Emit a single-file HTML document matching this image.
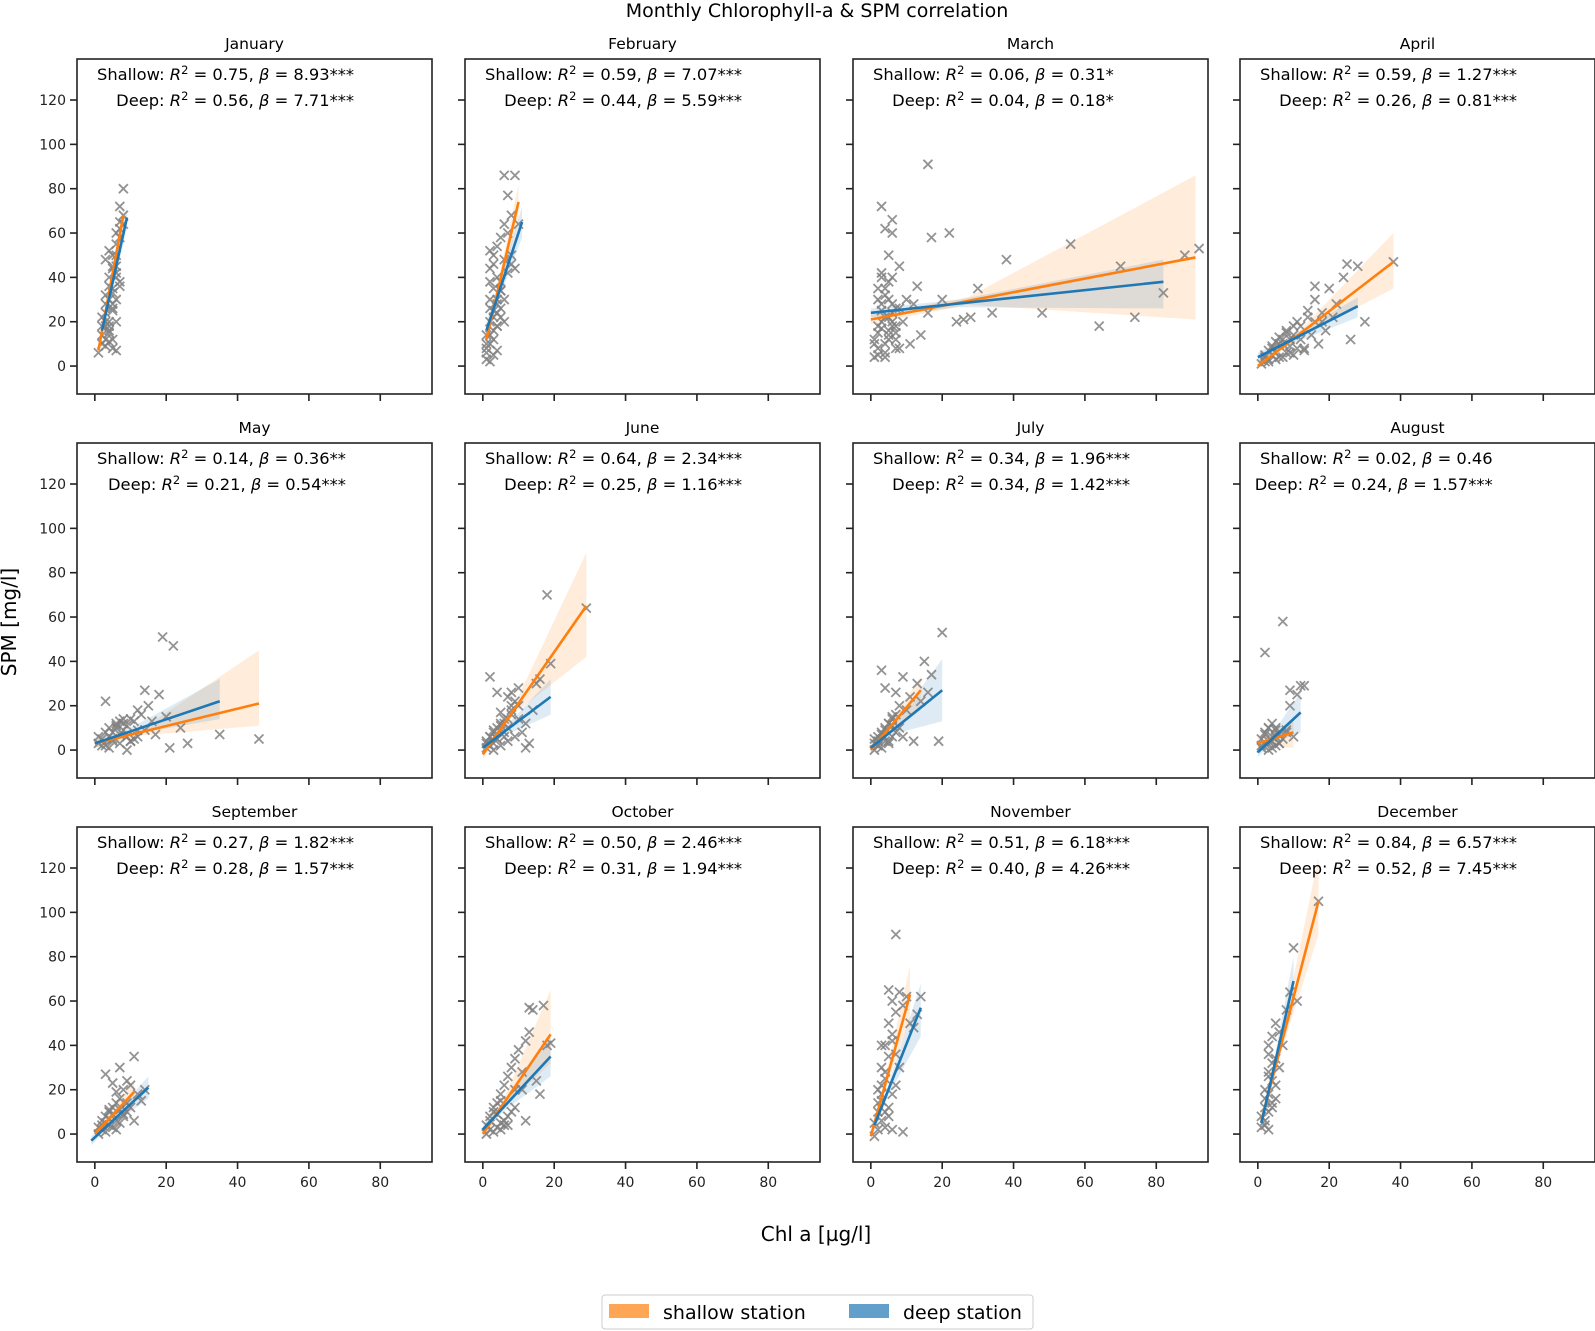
<!DOCTYPE html>
<html><head><meta charset="utf-8">
<style>
html,body{margin:0;padding:0;background:#fff;}
svg{display:block;font-family:"DejaVu Sans","Liberation Sans",sans-serif;}
</style></head>
<body>
<svg id="fig" width="1595" height="1331" viewBox="0 0 1595 1331" xmlns="http://www.w3.org/2000/svg">
<rect width="1595" height="1331" fill="#fff"/>
<text x="817" y="17" font-size="19" text-anchor="middle" fill="#000">Monthly Chlorophyll-a &amp; SPM correlation</text>
<text x="816" y="1241" font-size="20" text-anchor="middle" fill="#000">Chl a [µg/l]</text>
<text x="0" y="0" font-size="20" text-anchor="middle" fill="#000" transform="translate(16,622) rotate(-90)">SPM [mg/l]</text>
<g id="panels"></g>
<g>
<rect x="602" y="1295" width="431" height="34" rx="3" fill="#fff" stroke="#ccc" stroke-width="1"/>
<rect x="609" y="1304" width="40" height="14" fill="#ffa556"/>
<text x="663" y="1319" font-size="19" fill="#000">shallow station</text>
<rect x="849" y="1304" width="40" height="14" fill="#629fcb"/>
<text x="903" y="1319" font-size="19" fill="#000">deep station</text>
</g>
</svg>
<script>
const months=["January","February","March","April","May","June","July","August","September","October","November","December"];
const statsShallow=[["0.75","8.93***"],["0.59","7.07***"],["0.06","0.31*"],["0.59","1.27***"],["0.14","0.36**"],["0.64","2.34***"],["0.34","1.96***"],["0.02","0.46"],["0.27","1.82***"],["0.50","2.46***"],["0.51","6.18***"],["0.84","6.57***"]];
const statsDeep=[["0.56","7.71***"],["0.44","5.59***"],["0.04","0.18*"],["0.26","0.81***"],["0.21","0.54***"],["0.25","1.16***"],["0.34","1.42***"],["0.24","1.57***"],["0.28","1.57***"],["0.31","1.94***"],["0.40","4.26***"],["0.52","7.45***"]];
// regression lines: [x0,y0,x1,y1], bands: [lo0,hi0,lo1,hi1]
const shallowLine=[[1,7,8,68],[1,12,10,74],[0,21,91,49],[0,0,38,47],[0,3,46,21],[0,-2,29,65],[0,0,14,27],[0,3,10,8],[0,0,11,19],[0,0,19,45],[0,-1,11,63],[1,6,17,105]];
const shallowBand=[[5,10,64,72],[8,16,66,82],[19,23,21,86],[-1,2,35,60],[1,5,11,45],[-4,0,42,89],[-2,2,18,33],[0,6,1,14],[-2,2,15,24],[-2,2,32,65],[-3,1,52,76],[3,9,90,125]];
const deepLine=[[2,16,9,67],[1,16,11,65],[0,24,82,38],[0,4,28,27],[0,3,35,22],[0,1,19,24],[0,1,20,27],[0,-1,12,17],[-1,-3,15,21],[0,2,19,35],[1,4,14,57],[1,5,10,69]];
const deepBand=[[13,19,62,72],[12,20,58,72],[22,26,26,48],[2,6,22,31],[1,5,14,32],[-1,3,16,32],[-1,3,13,41],[-3,2,8,26],[-5,-1,16,26],[0,4,26,45],[1,7,44,68],[2,8,57,80]];
const scatterX=[
[1,2,2,3,3,3,4,4,4,5,5,5,5,6,6,6,6,7,7,7,8,8,2,3,4,5,6,3,4,5,6,7,2,5,6,7,8,7,6,4,3,4,5,4,3,5,6,4,5,3],
[1,1,1,2,2,2,2,3,3,3,3,4,4,4,4,5,5,5,6,6,6,7,7,8,8,9,9,10,2,3,4,5,6,7,2,3,8,5,4,6,1,2,3,4,2,3,5,1,2,4],
[1,2,2,3,3,3,4,4,4,5,5,5,6,6,6,7,7,8,8,9,10,11,12,13,14,16,16,17,20,22,24,26,28,30,34,38,48,56,64,70,74,82,88,92,2,4,6,3,5,7,1,2,3,4,5,6,7,8,2,3,4,5,6,1,2,3,4,5,6,7],
[1,2,2,3,4,4,5,6,6,7,8,8,9,10,10,11,12,13,14,15,16,17,18,19,20,21,22,24,25,26,28,30,3,5,7,9,11,13,38,16,2,3,4,5,6,7,8,9,10,12,14,16,18],
[1,2,3,4,5,5,6,7,8,9,10,11,12,13,14,15,16,17,18,19,20,22,24,26,35,46,3,6,8,10,12,14,21,4,7,9,1,2,3,4,5,6,7,8,9,10,11,12],
[1,1,2,2,3,3,4,4,5,5,6,6,7,7,8,8,9,9,10,10,11,12,13,14,15,16,18,19,29,3,4,5,6,7,8,2,12,10,1,2,3,4,5,6,7,8],
[1,1,2,2,3,3,4,4,5,5,6,6,7,7,8,8,9,10,11,12,13,14,15,16,17,19,20,3,4,5,6,2,7,9,1,2,3,4,5,6],
[1,1,2,2,3,3,4,4,5,5,6,6,7,8,8,9,9,10,11,12,13,2,7,3,4,5,1,2,3,4,5,6],
[1,1,2,2,3,3,4,4,5,5,6,6,7,7,8,8,9,9,10,10,11,12,13,14,3,5,7,9,11,4,6,8,2,3,4,5,6,7],
[1,1,2,2,3,3,4,4,5,5,6,6,7,7,8,8,9,9,10,11,12,13,14,15,16,17,18,19,13,12,5,7,9,11,2,3,4,5,6],
[1,1,2,2,2,3,3,3,4,4,4,5,5,5,6,6,6,7,7,7,8,8,9,10,11,12,13,14,6,9,3,4,5,7,2,3,4,5,6,3],
[1,1,2,2,2,3,3,3,3,4,4,4,5,5,5,6,6,7,8,9,10,11,17,2,3,4,5,2,3,4,3]];
const scatterY=[
[6,10,14,12,20,28,18,30,40,25,35,45,50,30,55,60,40,65,72,38,64,80,22,9,11,8,7,48,52,33,45,58,18,26,42,62,68,36,20,15,24,36,28,20,32,44,50,16,12,18],
[3,8,14,10,20,30,44,12,25,35,50,18,28,40,54,22,38,58,30,48,64,42,60,50,68,86,44,64,2,5,7,34,86,77,52,16,46,26,24,20,6,14,22,30,38,46,34,10,26,18],
[4,8,15,20,28,40,10,22,35,12,30,50,18,40,60,15,26,45,8,20,30,10,28,36,14,24,91,58,30,60,20,21,22,35,24,48,24,55,18,45,22,33,50,53,5,62,66,72,16,12,10,18,25,32,14,20,8,26,35,42,6,22,28,12,30,17,4,38,24,18],
[1,2,4,3,5,8,6,10,4,12,6,15,9,18,5,20,12,8,25,14,30,10,20,16,35,22,28,40,46,12,45,20,2,3,4,6,8,7,47,36,5,7,9,11,13,10,16,12,14,18,22,20,24],
[3,5,2,6,4,8,10,3,12,6,14,5,9,16,27,20,13,7,25,51,15,47,10,3,7,5,22,11,14,4,18,9,1,1,13,0,6,2,8,10,5,12,7,9,11,4,13,6],
[1,4,2,6,3,8,5,10,2,12,6,14,4,10,16,20,22,6,14,28,8,12,3,18,30,32,70,39,64,0,26,17,12,24,26,33,1,20,3,6,9,5,11,8,14,18],
[0,3,2,6,1,8,4,10,3,12,6,14,8,16,10,20,6,18,24,4,30,22,40,26,34,4,53,36,28,12,15,4,26,33,5,2,7,9,4,11],
[1,5,3,8,0,10,4,12,2,6,7,3,5,9,8,20,27,6,25,29,29,44,58,10,1,9,2,7,4,6,10,3],
[0,3,2,6,1,8,4,10,3,12,6,14,5,16,8,20,10,24,12,22,35,18,15,20,27,23,30,14,6,11,19,9,4,5,7,9,2,11],
[0,4,2,8,1,10,3,14,5,18,6,22,8,26,10,30,12,34,38,20,42,46,56,24,18,58,40,41,57,6,2,4,20,28,6,12,9,15,4],
[-1,5,2,10,20,6,15,30,10,25,40,12,35,50,18,45,60,22,55,90,30,64,58,62,50,48,54,62,2,1,40,3,65,36,14,22,28,8,42,18],
[3,8,6,12,20,10,18,28,36,14,24,44,22,34,50,30,46,40,56,64,84,60,105,4,2,12,16,16,26,32,40]];
const X0=-5,X1=94.5,Y0=-12.6,Y1=138.5;
const colL=[77,465,853,1240], rowT=[59,443,827], W=355, H=335;
const NS="http://www.w3.org/2000/svg";
const root=document.getElementById('panels');
function mk(tag,attrs,parent){const e=document.createElementNS(NS,tag);for(const k in attrs)e.setAttribute(k,attrs[k]);parent.appendChild(e);return e;}
const xTicks=[0,20,40,60,80], yTicks=[0,20,40,60,80,100,120];
months.forEach((m,i)=>{
  const r=Math.floor(i/4), c=i%4, L=colL[c], T=rowT[r];
  const sx=v=>L+(v-X0)/(X1-X0)*W, sy=v=>T+H-(v-Y0)/(Y1-Y0)*H;
  const g=mk('g',{},root);
  
  
  const cp=mk('clipPath',{id:'cp'+i},g); mk('rect',{x:L,y:T,width:W,height:H},cp);
  const inner=mk('g',{'clip-path':'url(#cp'+i+')'},g);
  function band(line,b,color,op,name){
    const[x0,y0,x1,y1]=line, xm=(x0+x1)/2*0.6+x0*0.4, ym=y0+(y1-y0)*(xm-x0)/(x1-x0);
    const hw0=(b[1]-b[0])/2, hw1=(b[3]-b[2])/2, hwm=Math.min(hw0,hw1)*0.6+0.5;
    const pts=[[x0,b[1]],[xm,ym+hwm],[x1,b[3]],[x1,b[2]],[xm,ym-hwm],[x0,b[0]]].map(p=>sx(p[0])+','+sy(p[1])).join(' ');
    const p=mk('polygon',{points:pts,fill:color,'fill-opacity':op},inner);
    
    
  }
  band(shallowLine[i],shallowBand[i],'#ff7f0e',0.15,'shallow-ci-band');
  band(deepLine[i],deepBand[i],'#1f77b4',0.15,'deep-ci-band');
  const xs=scatterX[i], ys=scatterY[i];
  for(let k=0;k<xs.length;k++){
    const px=sx(xs[k]), py=sy(ys[k]), d=4.5;
    const pt=mk('path',{d:`M${px-d},${py-d}L${px+d},${py+d}M${px-d},${py+d}L${px+d},${py-d}`,stroke:'#808080','stroke-width':1.8,'stroke-opacity':0.85},inner);
    
    
  }
  function line(l,color,name){
    const e=mk('line',{x1:sx(l[0]),y1:sy(l[1]),x2:sx(l[2]),y2:sy(l[3]),stroke:color,'stroke-width':2.6},inner);
    
    
  }
  line(shallowLine[i],'#ff7f0e','shallow-regression-line');
  line(deepLine[i],'#1f77b4','deep-regression-line');
  const fr=mk('rect',{x:L,y:T,width:W,height:H,fill:'none',stroke:'#222','stroke-width':1.6},g);
  
  
  xTicks.forEach(t=>{
    const tk=mk('line',{x1:sx(t),x2:sx(t),y1:T+H,y2:T+H+7,stroke:'#222','stroke-width':1.6},g);
    
    
    if(r===2){const tl=mk('text',{x:sx(t),y:T+H+25,'font-size':14,'text-anchor':'middle',fill:'#222'},g);tl.textContent=t;
      
      }
  });
  yTicks.forEach(t=>{
    const tk=mk('line',{x1:L-7,x2:L,y1:sy(t),y2:sy(t),stroke:'#222','stroke-width':1.6},g);
    
    
    if(c===0){const tl=mk('text',{x:L-11,y:sy(t)+5,'font-size':14,'text-anchor':'end',fill:'#222'},g);tl.textContent=t;
      
      }
  });
  const tt=mk('text',{x:L+W/2,y:T-10,'font-size':15.5,'text-anchor':'middle',fill:'#000'},g);tt.textContent=m;
  
  
  const s=mk('text',{x:L+20,y:T+21,'font-size':16.3,fill:'#000'},g);
  
  
  s.innerHTML=`Shallow: <tspan font-style="italic">R</tspan><tspan dy="-6" font-size="11.5">2</tspan><tspan dy="6"> = ${statsShallow[i][0]}, </tspan><tspan font-style="italic">β</tspan> = ${statsShallow[i][1]}`;
  const dp=mk('text',{x:L+20,y:T+47,'font-size':16.3,fill:'#000'},g);
  
  
  dp.innerHTML=`Deep: <tspan font-style="italic">R</tspan><tspan dy="-6" font-size="11.5">2</tspan><tspan dy="6"> = ${statsDeep[i][0]}, </tspan><tspan font-style="italic">β</tspan> = ${statsDeep[i][1]}`;
  const ws=s.getComputedTextLength(), wd=dp.getComputedTextLength();
  dp.setAttribute('x', L+20+(ws-wd));
});
</script>
</body></html>
